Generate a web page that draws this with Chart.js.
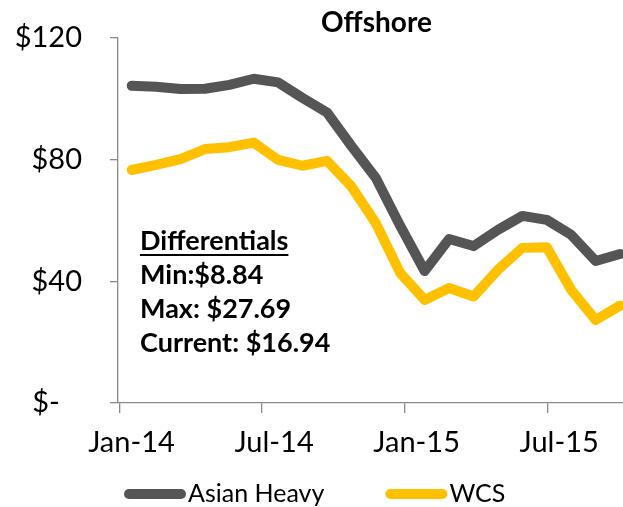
<!DOCTYPE html>
<html>
<head>
<meta charset="utf-8">
<script src="https://cdn.jsdelivr.net/npm/chart.js@4.4.1/dist/chart.umd.min.js"></script>
<style>
    html, body { margin: 0; padding: 0; background: #fff; }
    #wrap { width: 623px; height: 507px; }
</style>
</head>
<body>
<div id="wrap"><canvas id="offshore-chart" width="623" height="507"></canvas></div>
<script>
const months = ["Jan-14", "Feb-14", "Mar-14", "Apr-14", "May-14", "Jun-14", "Jul-14",
    "Aug-14", "Sep-14", "Oct-14", "Nov-14", "Dec-14", "Jan-15", "Feb-15", "Mar-15",
    "Apr-15", "May-15", "Jun-15", "Jul-15", "Aug-15", "Sep-15"];
const asianHeavy = [104.3, 104.0, 103.2, 103.3, 104.6, 106.6, 105.4, 100.3, 95.5, 84.5, 74.0,
    58.2, 43.4, 53.9, 51.6, 56.9, 61.5, 60.2, 55.3, 46.7, 49.0];
const wcs = [76.6, 78.3, 80.2, 83.5, 84.1, 85.6, 79.9, 78.0, 79.6, 71.2, 59.1,
    42.7, 33.9, 37.8, 35.0, 43.8, 51.0, 51.2, 37.2, 27.3, 32.0];
const xTickLabels = ["Jan-14", "Jul-14", "Jan-15", "Jul-15"];
const xTickAt = [-0.5, 5.34, 11.18, 17.02];
const yTicks = [0, 40, 80, 120];
const noteLines = ["Differentials", "Min:$8.84", "Max: $27.69", "Current: $16.94"];

const axisGray = "#8a8a8a";

function toPoints(values) {
    return values.map((v, i) => ({ x: i, y: v }));
}

const extrasPlugin = {
    id: "extras",
    afterDraw(chart) {
        const ctx = chart.ctx;
        const area = chart.chartArea;
        ctx.save();
        ctx.fillStyle = "#000";

        // title, roughly centred over the plot
        ctx.font = "bold 28px Lato";
        ctx.textAlign = "center";
        ctx.textBaseline = "middle";
        ctx.fillText("Offshore", (area.left + area.right) / 2 + 6, 23);

        // differentials note
        ctx.font = "bold 27px Lato";
        ctx.textAlign = "left";
        ctx.textBaseline = "alphabetic";
        noteLines.forEach((line, i) => {
            ctx.fillText(line, 140, 250 + i * 34);
        });
        const w = ctx.measureText(noteLines[0]).width;
        ctx.strokeStyle = "#000";
        ctx.lineWidth = 2;
        ctx.beginPath();
        ctx.moveTo(140, 255);
        ctx.lineTo(140 + w, 255);
        ctx.stroke();

        // legend
        ctx.font = "25px Lato";
        ctx.textBaseline = "middle";
        ctx.lineCap = "round";
        let x = 129;
        chart.data.datasets.forEach((ds) => {
            ctx.strokeStyle = ds.borderColor;
            ctx.lineWidth = 10;
            ctx.beginPath();
            ctx.moveTo(x, 494);
            ctx.lineTo(x + 52, 494);
            ctx.stroke();
            ctx.fillText(ds.label, x + 59, 494);
            x += 59 + ctx.measureText(ds.label).width + 66;
        });
        ctx.restore();
    },
};

new Chart(document.getElementById("offshore-chart"), {
    type: "line",
    data: {
        labels: months,
        datasets: [
            {
                label: "Asian Heavy",
                data: toPoints(asianHeavy),
                borderColor: "#555555",
                backgroundColor: "#555555",
            },
            {
                label: "WCS",
                data: toPoints(wcs),
                borderColor: "#ffc000",
                backgroundColor: "#ffc000",
            },
        ],
    },
    options: {
        responsive: false,
        animation: false,
        devicePixelRatio: 1,
        layout: { padding: { top: 38, right: 0, bottom: 0, left: 0 } },
        elements: {
            line: { borderWidth: 10, tension: 0, borderCapStyle: "round", borderJoinStyle: "round" },
            point: { radius: 0, hoverRadius: 0 },
        },
        plugins: {
            legend: { display: false },
            title: { display: false },
            tooltip: { enabled: false },
        },
        scales: {
            x: {
                type: "linear",
                min: -0.561,
                max: 20.123,
                afterFit: (scale) => {
                    scale.height = 104;
                    scale.paddingLeft = 0;
                    scale.paddingRight = 0;
                },
                afterBuildTicks: (scale) => {
                    scale.ticks = xTickAt.map((v) => ({ value: v }));
                },
                ticks: {
                    autoSkip: false,
                    maxRotation: 0,
                    labelOffset: 12,
                    padding: 12,
                    color: "#000",
                    font: { family: "Lato", size: 29 },
                    callback: (value, index) => xTickLabels[index],
                },
                grid: {
                    drawOnChartArea: false,
                    tickLength: 10,
                    color: axisGray,
                    lineWidth: 1.3,
                },
                border: { color: axisGray, width: 1.3 },
            },
            y: {
                min: 0,
                max: 120,
                afterFit: (scale) => {
                    scale.width = 118;
                    scale.paddingTop = 0;
                    scale.paddingBottom = 0;
                },
                afterBuildTicks: (scale) => {
                    scale.ticks = yTicks.map((v) => ({ value: v }));
                },
                ticks: {
                    padding: 28,
                    color: "#000",
                    font: { family: "Lato", size: 29 },
                    callback: (v) => (v === 0 ? "$-   " : "$" + v),
                },
                grid: {
                    drawOnChartArea: false,
                    tickLength: 8,
                    color: axisGray,
                    lineWidth: 1.3,
                },
                border: { color: axisGray, width: 1.3 },
            },
        },
    },
    plugins: [extrasPlugin],
});
</script>
</body>
</html>
